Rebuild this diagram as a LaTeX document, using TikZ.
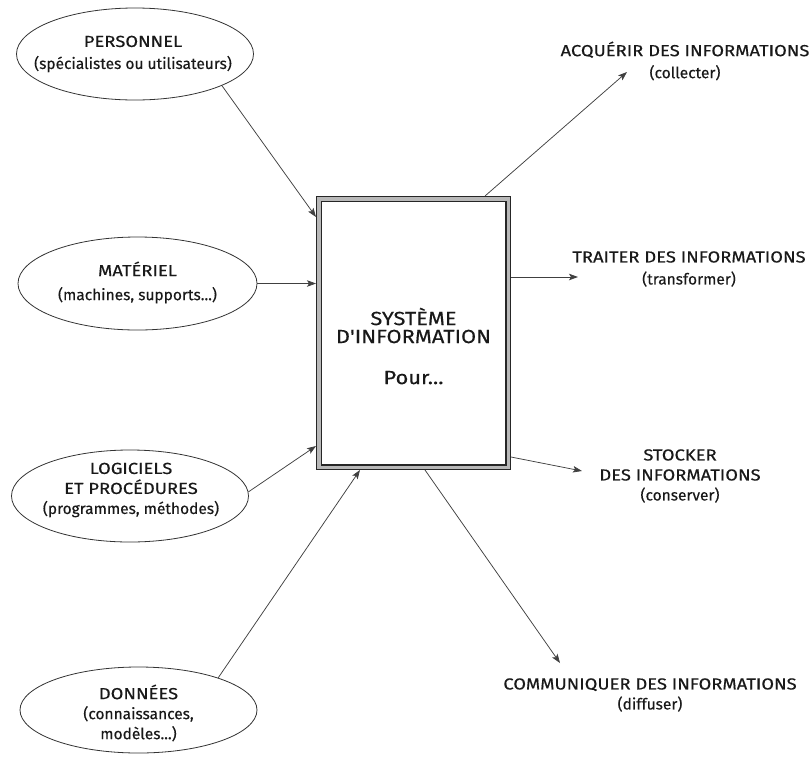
\documentclass[tikz,border=0pt]{standalone}
\usepackage{fontspec}
\setmainfont{Fira Sans}
\newfontfamily\lowfont{Fira Sans}[FakeBold=0.35]
\newfontfamily\capfont{Fira Sans}[FakeStretch=1.15,FakeBold=0.35]
\newcommand{\capl}[1]{{\capfont\fontsize{16}{20}\selectfont #1}}
\newcommand{\capbig}[1]{{\capfont\fontsize{19}{20}\selectfont #1}}
\usetikzlibrary{shapes.geometric,arrows.meta,calc}
\begin{document}
\begin{tikzpicture}[x=1pt,y=-1pt,
  ell/.style={ellipse,draw=black!80,line width=0.8pt,inner sep=0pt,minimum width=237pt,minimum height=92pt},
  txt/.style={align=center,inner sep=0pt,text=black!90},
  fa/.style={font=\lowfont\fontsize{15.5}{22}\selectfont},
  fb/.style={font=\lowfont\fontsize{15.5}{20}\selectfont},
  arr/.style={draw=black!75,line width=0.75pt,-{Stealth[length=9pt,width=6.5pt,inset=2pt]}},
  sysbox/.style={rectangle,draw=black!85,line width=1.3pt,double=black!28,double distance=3.2pt,fill=white,minimum width=189.2pt,minimum height=268.2pt,inner sep=0pt,outer sep=2.9pt}]
\useasboundingbox (0,0) rectangle (809,756);
% central box
\node[sysbox] (box) at (413.5,333) {};
\node[txt,font=\lowfont\fontsize{19}{18}\selectfont] (systxt) at (413.5,346) {\capbig{SYSTÈME}\\\capbig{D'INFORMATION}\\[23pt]\capbig{Pour...}};
% inputs
\node[ell] (pers) at (135,54) {};
\node[txt,fa] (perst) at (133,54) {\capl{PERSONNEL}\\(spécialistes ou utilisateurs)};
\node[ell,minimum width=239pt,minimum height=93pt] (mat) at (137.5,283.5) {};
\node[txt,font=\lowfont\fontsize{15.5}{24}\selectfont] (matt) at (137.5,282.5) {\capl{MATÉRIEL}\\(machines, supports...)};
\node[ell] (log) at (130,496) {};
\node[txt,fb] (logt) at (131,490) {\capl{LOGICIELS}\\\capl{ET PROCÉDURES}\\(programmes, méthodes)};
\node[ell,minimum height=86pt] (donn) at (138.5,710) {};
\node[txt,fb] (donnt) at (138.5,713) {\capl{DONNÉES}\\(connaissances,\\modèles...)};
% outputs
\node[txt,fa] (acq) at (685,61) {\capl{ACQUÉRIR DES INFORMATIONS}\\(collecter)};
\node[txt,fa] (trait) at (689,269) {\capl{TRAITER DES INFORMATIONS}\\(transformer)};
\node[txt,fb] (stock) at (680,476) {\capl{STOCKER}\\\capl{DES INFORMATIONS}\\(conserver)};
\node[txt,fb] (comm) at (650,695) {\capl{COMMUNIQUER DES INFORMATIONS}\\(diffuser)};
\coordinate (acqtip) at (627,72);
\coordinate (traittip) at (578,277);
\coordinate (stocktip) at (582,471);
\coordinate (commtip) at (560,663);
% connectors
\draw[arr] (pers.-20) -- ([yshift=-21pt]box.north west);
\draw[arr] (mat.east) -- (mat.east -| box.west);
\draw[arr] (log.2) -- ([yshift=-250pt]box.north west);
\draw[arr] (donn.22) -- ([xshift=44pt]box.south west);
\draw[arr] ([xshift=-26pt]box.north east) -- (acqtip);
\draw[arr] (box.east |- traittip) -- (traittip);
\draw[arr] ([yshift=13pt]box.south east) -- (stocktip);
\draw[arr] ([xshift=109pt]box.south west) -- (commtip);
\end{tikzpicture}
\end{document}
